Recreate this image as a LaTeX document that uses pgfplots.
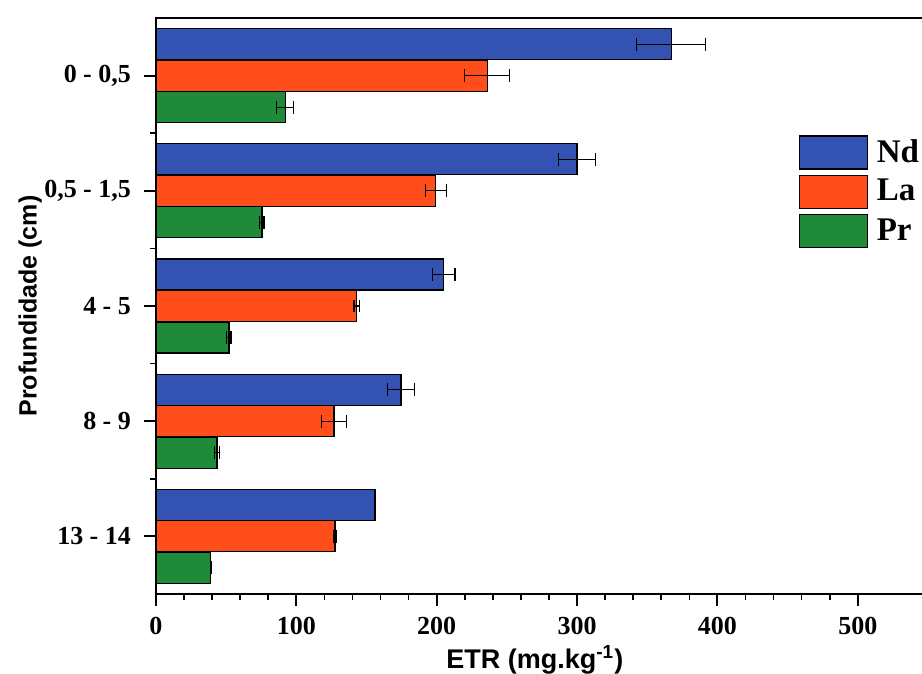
\documentclass[border=0pt]{standalone}
\usepackage{fontspec}
\setmainfont{Liberation Serif}
\newfontfamily\arialfont{Liberation Sans}
\usepackage{pgfplots}
\pgfplotsset{compat=1.18}
\definecolor{ndblue}{RGB}{52,82,178}
\definecolor{lared}{RGB}{255,78,28}
\definecolor{prgreen}{RGB}{30,138,58}
\pgfplotsset{myerr/.style={
  error bars/x dir=both, error bars/x explicit,
  error bars/error mark=|,
  error bars/error bar style={line width=0.6pt, black},
  error bars/error mark options={mark size=3.2pt, line width=0.6pt, black}}}
\begin{document}
\begin{tikzpicture}
\useasboundingbox (0,0) rectangle (461pt,337pt);
\begin{axis}[
  at={(78pt,40pt)}, anchor=south west,
  scale only axis, width=393pt, height=288pt,
  xmin=0, xmax=560, ymin=-0.5, ymax=4.5,
  xbar, bar width=15.5pt,
  axis on top,
  xtick pos=bottom, ytick pos=left, tick align=outside,
  major tick length=6pt, minor tick length=3pt,
  every major tick/.append style={draw=black, line width=1pt},
  every minor tick/.append style={draw=black, line width=0.8pt},
  major y tick style={/pgfplots/major tick length=6pt},
  xtick={0,100,...,500}, minor x tick num=4,
  ytick={0,...,4},
  yticklabels={13 - 14, 8 - 9, 4 - 5, {0,5 - 1,5}, {0 - 0,5}},
  minor ytick={0.5,1.5,2.5,3.5},
  axis line style={line width=1pt},
  ticklabel style={font=\fontsize{13}{15}\selectfont\bfseries},
  yticklabel style={xshift=-3pt},
  xticklabel style={yshift=-2pt},
  /pgf/number format/assume math mode=true,
  xlabel={ETR (mg.kg\textsuperscript{-1})},
  xlabel style={font=\arialfont\bfseries\fontsize{13.5}{16}\selectfont, at={(axis description cs:0.482,-0.1146)}, anchor=center},
  ylabel={Profundidade (cm)},
  ylabel style={font=\arialfont\bfseries\fontsize{12.5}{15}\selectfont, at={(axis description cs:-0.160,0.5)}, anchor=center},
  legend style={at={(rel axis cs:0.817,0.797)}, anchor=north west, draw=none, fill=none,
    font=\fontsize{16.5}{19}\selectfont\bfseries, row sep=2.5pt, column sep=4.5pt, inner sep=0pt,
    nodes={inner sep=0pt}},
  legend cell align=left,
  legend image code/.code={\draw[#1, draw=black, line width=0.6pt] (0pt,-8.25pt) rectangle (34pt,8.25pt);},
]
\addplot[fill=ndblue, draw=black, line width=0.6pt, bar shift=15.75pt, myerr] coordinates {
  (367,4) +- (24.5,0)
  (300,3) +- (13,0)
  (205,2) +- (8,0)
  (174.5,1) +- (9.5,0)
  (156,0) +- (0.3,0)
};
\addlegendentry{Nd}
\addplot[fill=lared, draw=black, line width=0.6pt, bar shift=0pt, myerr] coordinates {
  (236,4) +- (16,0)
  (199.4,3) +- (7.5,0)
  (143,2) +- (2,0)
  (126.8,1) +- (9,0)
  (127.5,0) +- (1,0)
};
\addlegendentry{La}
\addplot[fill=prgreen, draw=black, line width=0.6pt, bar shift=-15.75pt, myerr] coordinates {
  (92,4) +- (6,0)
  (75.5,3) +- (1.5,0)
  (52,2) +- (1.5,0)
  (43.4,1) +- (2,0)
  (39,0) +- (0.3,0)
};
\addlegendentry{Pr}
\end{axis}
\end{tikzpicture}
\end{document}
